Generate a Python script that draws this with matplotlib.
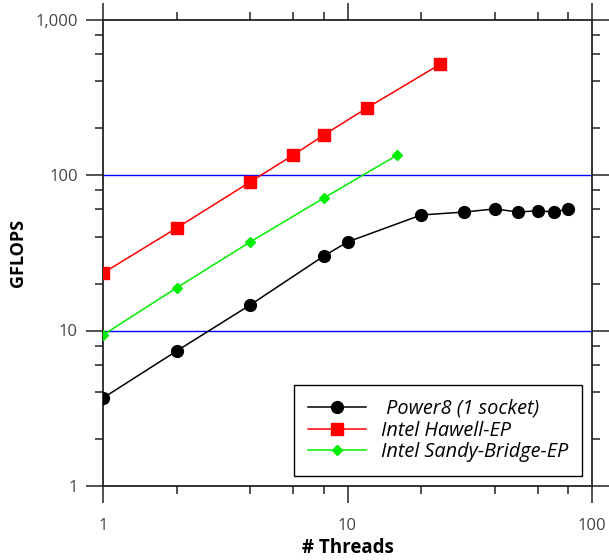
import matplotlib
matplotlib.use("Agg")
import matplotlib.pyplot as plt
from matplotlib.ticker import FixedLocator, FuncFormatter, NullFormatter

plt.rcParams['font.family'] = ['Open Sans', 'DejaVu Sans']

power8_x = [1, 2, 4, 8, 10, 20, 30, 40, 50, 60, 70, 80]
power8_y = [3.68, 7.38, 14.6, 30.1, 37.1, 55.3, 57.8, 60.5, 57.8, 58.9, 57.8, 60.5]
haswell_x = [1, 2, 4, 6, 8, 12, 24]
haswell_y = [23.4, 45.6, 90.2, 134.5, 180.8, 269.7, 517]
sandy_x = [1, 2, 4, 8, 16]
sandy_y = [9.36, 18.8, 37.1, 71.1, 134.5]
ref_lines = [10, 100]
labels = [' Power8 (1 socket)', 'Intel Hawell-EP', 'Intel Sandy-Bridge-EP']

fig = plt.figure(figsize=(6.09, 5.6), dpi=100)
ax = fig.add_axes([103/609, 74/560, (592-103)/609, (486-19.5)/560])

for v in ref_lines:
    ax.axhline(v, color='#0000ff', lw=1.0, zorder=1, snap=True)

ax.plot(power8_x, power8_y, color='black', lw=1.1, marker='o', ms=8.5, label=labels[0], zorder=3)
ax.plot(haswell_x, haswell_y, color='#ff0000', lw=1.1, marker='s', ms=8.5, label=labels[1], zorder=3)
ax.plot(sandy_x, sandy_y, color='#00ee00', lw=1.1, marker='D', ms=5, label=labels[2], zorder=3)

ax.set_xscale('log')
ax.set_yscale('log')
ax.set_xlim(1, 100)
ax.set_ylim(1, 1000)

major = [1, 10, 100, 1000]
minor = [m * d for d in [1, 10, 100] for m in [2, 4, 6, 8]]
for axis in (ax.xaxis, ax.yaxis):
    axis.set_major_locator(FixedLocator(major))
    axis.set_minor_locator(FixedLocator(minor))
    axis.set_minor_formatter(NullFormatter())
    axis.set_major_formatter(FuncFormatter(lambda v, p: f"{int(round(v)):,}"))

ax.tick_params(which='both', direction='out', top=True, right=True,
               labelcolor='#444444', labelsize=12, width=1.1, color='#222222')
ax.tick_params(which='major', length=12, pad=6)
ax.tick_params(which='minor', length=6)
ax.tick_params(axis='x', pad=11)
for s in ax.spines.values():
    s.set_linewidth(1.3)
    s.set_color('#222222')

ax.set_xlabel('# Threads', fontsize=13.5, fontweight='bold', labelpad=3)
ax.set_ylabel('GFLOPS', fontsize=13, fontweight='bold', labelpad=6)

leg = ax.legend(loc='lower right', bbox_to_anchor=(0.9796, 0.0214), borderaxespad=0,
                fancybox=False, edgecolor='black', framealpha=1,
                prop={'style': 'italic', 'size': 14.3},
                handlelength=2.9, handletextpad=0.75, borderpad=0.7, labelspacing=0.08)
leg.get_frame().set_linewidth(1.0)

fig.savefig('out.png', dpi=100)
